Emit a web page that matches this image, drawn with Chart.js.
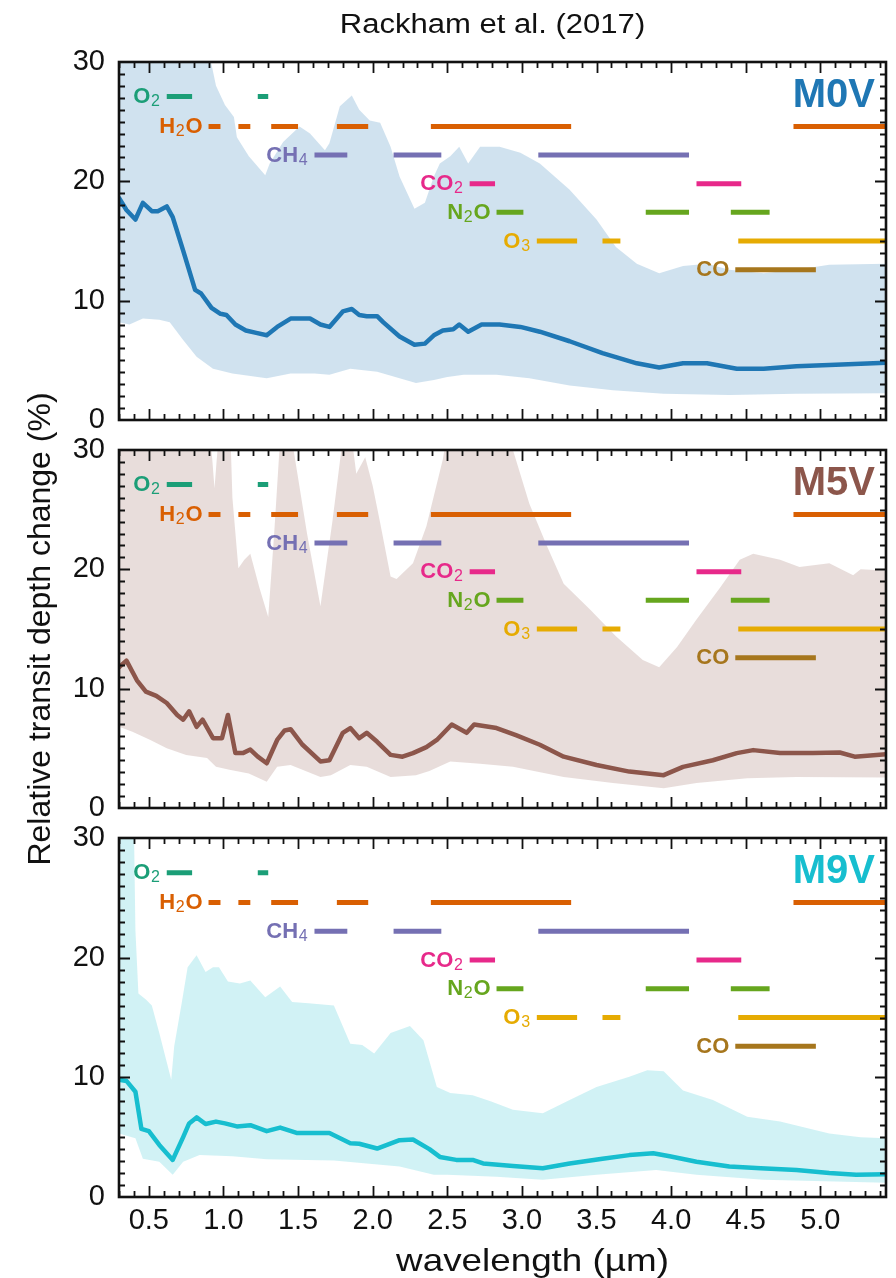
<!DOCTYPE html>
<html>
<head>
<meta charset="utf-8">
<script src="https://cdn.jsdelivr.net/npm/chart.js@4.4.1/dist/chart.umd.min.js"></script>
<style>
html,body{margin:0;padding:0;background:#ffffff;}
#wrap{position:relative;width:896px;height:1278px;overflow:hidden;}
#wrap canvas{position:absolute;left:0;top:0;}
</style>
</head>
<body>
<div id="wrap">
<canvas id="c1" width="896" height="1278"></canvas>
<canvas id="c2" width="896" height="1278"></canvas>
<canvas id="c3" width="896" height="1278"></canvas>
</div>
<script>
// ---------------- DATA ----------------
const WAVELENGTH_TICKS = [0.5, 1.0, 1.5, 2.0, 2.5, 3.0, 3.5, 4.0, 4.5, 5.0];
const DEPTH_TICKS = [0, 10, 20, 30];

const MOLECULES = ['O2', 'H2O', 'CH4', 'CO2', 'N2O', 'O3', 'CO'];
const MOLECULE_LEVELS = [27.1, 24.6, 22.2, 19.8, 17.4, 15.0, 12.6];
const BANDS_O2  = [[0.62, 0.79], [1.23, 1.30]];
const BANDS_H2O = [[0.90, 0.98], [1.10, 1.18], [1.32, 1.50], [1.76, 1.97], [2.39, 3.33], [4.82, 5.44]];
const BANDS_CH4 = [[1.61, 1.83], [2.14, 2.46], [3.11, 4.12]];
const BANDS_CO2 = [[2.65, 2.82], [4.17, 4.47]];
const BANDS_N2O = [[2.83, 3.01], [3.83, 4.12], [4.40, 4.66]];
const BANDS_O3  = [[3.10, 3.37], [3.54, 3.66], [4.45, 5.44]];
const BANDS_CO  = [[4.43, 4.97]];
const MOLECULE_BANDS = [BANDS_O2, BANDS_H2O, BANDS_CH4, BANDS_CO2, BANDS_N2O, BANDS_O3, BANDS_CO];

// [wavelength (µm), relative transit depth change (%)]
const M0V_MEDIAN = [[0.30,18.6],[0.35,17.6],[0.41,16.8],[0.46,18.2],[0.52,17.5],[0.56,17.5],[0.62,17.9],[0.66,17.0],[0.73,14.2],[0.81,10.9],[0.85,10.6],[0.92,9.4],[0.98,8.9],[1.02,8.8],[1.08,8.0],[1.15,7.5],[1.22,7.3],[1.29,7.1],[1.36,7.8],[1.45,8.5],[1.58,8.5],[1.65,8.0],[1.71,7.8],[1.80,9.1],[1.86,9.3],[1.91,8.8],[1.96,8.7],[2.03,8.7],[2.07,8.2],[2.18,7.0],[2.28,6.3],[2.35,6.4],[2.41,7.1],[2.47,7.5],[2.54,7.6],[2.58,8.0],[2.64,7.4],[2.73,8.0],[2.85,8.0],[2.99,7.8],[3.12,7.4],[3.32,6.6],[3.54,5.6],[3.77,4.75],[3.92,4.4],[4.08,4.75],[4.24,4.75],[4.44,4.3],[4.62,4.3],[4.84,4.5],[5.06,4.6],[5.44,4.8]];
const M0V_UPPER = [[0.30,34],[0.60,34],[0.90,31],[0.95,28.0],[1.01,26.4],[1.07,25.4],[1.09,23.7],[1.17,22.1],[1.28,20.5],[1.31,21.5],[1.40,23.3],[1.51,24.6],[1.58,24.0],[1.68,22.6],[1.71,23.2],[1.78,26.3],[1.86,27.2],[1.91,26.0],[1.98,25.1],[2.05,24.9],[2.12,22.9],[2.18,20.4],[2.28,17.7],[2.35,18.2],[2.41,20.4],[2.45,21.5],[2.52,22.1],[2.58,22.9],[2.64,21.5],[2.72,22.9],[2.85,22.9],[2.99,22.4],[3.12,21.5],[3.32,19.3],[3.50,16.8],[3.63,14.5],[3.77,13.1],[3.92,12.3],[4.08,12.9],[4.24,13.1],[4.39,12.6],[4.62,12.3],[4.84,12.6],[5.06,13.0],[5.44,13.1]];
const M0V_LOWER = [[0.30,8.2],[0.37,8.0],[0.46,8.5],[0.57,8.4],[0.64,8.2],[0.73,6.7],[0.82,5.3],[0.93,4.3],[1.06,3.9],[1.29,3.5],[1.45,3.9],[1.61,3.9],[1.71,3.8],[1.85,4.3],[2.03,4.05],[2.29,3.1],[2.41,3.35],[2.50,3.6],[2.61,3.8],[2.83,3.8],[3.05,3.5],[3.32,2.9],[3.61,2.5],[3.95,2.2],[4.39,2.1],[4.84,2.2],[5.44,2.25]];

const M5V_MEDIAN = [[0.30,11.8],[0.35,12.35],[0.42,10.7],[0.48,9.75],[0.55,9.4],[0.62,8.8],[0.69,7.8],[0.73,7.4],[0.77,8.1],[0.82,6.8],[0.86,7.4],[0.93,5.85],[0.99,5.85],[1.03,7.8],[1.08,4.6],[1.13,4.6],[1.18,4.9],[1.23,4.3],[1.29,3.75],[1.36,5.7],[1.41,6.5],[1.45,6.6],[1.53,5.3],[1.65,3.9],[1.71,4.0],[1.80,6.3],[1.85,6.7],[1.91,5.85],[1.96,6.3],[2.03,5.55],[2.12,4.45],[2.20,4.3],[2.27,4.6],[2.36,5.1],[2.43,5.7],[2.53,7.0],[2.63,6.3],[2.68,7.0],[2.83,6.7],[2.96,6.1],[3.12,5.3],[3.28,4.3],[3.50,3.6],[3.72,3.05],[3.95,2.75],[4.08,3.45],[4.28,4.0],[4.44,4.6],[4.55,4.85],[4.73,4.6],[4.95,4.6],[5.13,4.65],[5.23,4.3],[5.44,4.5]];
const M5V_UPPER = [[0.30,34],[0.90,34],[0.92,30],[0.94,26.8],[0.96,30],[0.98,34],[1.04,34],[1.06,26],[1.10,20.1],[1.14,20.8],[1.18,21.3],[1.24,18.5],[1.30,16.0],[1.34,23],[1.38,31],[1.45,33],[1.47,30],[1.56,23],[1.65,16.9],[1.73,24],[1.80,31],[1.86,31],[1.89,28.0],[1.95,29.4],[2.00,27],[2.05,23.9],[2.12,19.4],[2.16,19.2],[2.27,20.5],[2.36,23.6],[2.47,29.2],[2.52,33],[2.90,33],[2.94,30],[3.05,25.5],[3.17,21.9],[3.28,18.8],[3.46,16.6],[3.63,14.4],[3.81,12.4],[3.92,11.8],[4.04,13.5],[4.17,15.8],[4.33,18.5],[4.46,20.8],[4.55,21.3],[4.73,20.8],[4.86,20.2],[5.06,20.5],[5.22,19.5],[5.27,20.0],[5.44,19.9]];
const M5V_LOWER = [[0.30,6.8],[0.39,6.4],[0.51,5.7],[0.62,5.0],[0.75,4.45],[0.89,4.2],[0.95,3.45],[1.04,3.2],[1.17,2.9],[1.29,2.2],[1.36,3.45],[1.45,3.6],[1.65,2.6],[1.72,2.75],[1.85,3.6],[1.96,3.45],[2.12,2.6],[2.29,2.75],[2.38,3.1],[2.52,3.9],[2.72,3.7],[2.94,3.45],[3.28,2.6],[3.61,2.1],[3.95,1.65],[4.17,2.1],[4.51,2.5],[4.84,2.6],[5.44,2.55]];

const M9V_MEDIAN = [[0.30,9.8],[0.35,9.7],[0.41,8.8],[0.45,5.7],[0.50,5.5],[0.57,4.35],[0.66,3.1],[0.73,5.0],[0.77,6.15],[0.82,6.65],[0.88,6.1],[0.95,6.3],[1.01,6.15],[1.09,5.9],[1.18,6.0],[1.29,5.5],[1.38,5.8],[1.49,5.35],[1.71,5.35],[1.85,4.5],[1.91,4.45],[2.03,4.05],[2.18,4.75],[2.27,4.8],[2.38,4.0],[2.45,3.35],[2.56,3.1],[2.67,3.1],[2.74,2.8],[2.94,2.6],[3.14,2.4],[3.32,2.8],[3.54,3.2],[3.72,3.5],[3.88,3.65],[3.99,3.4],[4.17,2.95],[4.39,2.55],[4.60,2.4],[4.84,2.25],[5.06,2.0],[5.24,1.85],[5.44,1.9]];
const M9V_UPPER = [[0.30,34],[0.40,31],[0.41,22.3],[0.43,17.0],[0.48,16.5],[0.52,16.0],[0.57,13.7],[0.65,9.8],[0.67,12.6],[0.72,16.2],[0.76,19.2],[0.82,20.2],[0.88,18.8],[0.93,19.2],[0.97,19.2],[1.03,18.0],[1.11,17.85],[1.18,18.1],[1.28,16.7],[1.38,17.6],[1.46,16.3],[1.57,16.2],[1.74,16.0],[1.85,12.8],[1.93,12.7],[2.01,12.0],[2.12,13.7],[2.25,14.3],[2.34,13.1],[2.43,9.2],[2.52,8.7],[2.67,8.5],[2.79,8.0],[2.94,7.3],[3.14,7.0],[3.32,8.1],[3.50,9.2],[3.72,10.05],[3.84,10.6],[3.95,10.5],[4.08,8.9],[4.28,8.1],[4.51,6.7],[4.73,6.3],[5.06,5.3],[5.27,5.0],[5.44,4.9]];
const M9V_LOWER = [[0.30,5.3],[0.41,4.9],[0.46,3.2],[0.57,2.95],[0.66,1.85],[0.73,2.95],[0.84,3.5],[1.06,3.4],[1.29,3.15],[1.74,3.05],[1.96,2.8],[2.18,2.55],[2.41,1.85],[2.50,1.85],[2.83,1.7],[3.14,1.45],[3.50,1.85],[3.90,2.25],[4.17,1.85],[4.62,1.45],[5.44,1.2]];

const STAR_NAMES = ['M0V', 'M5V', 'M9V'];
const TITLE_TEXT = 'Rackham et al. (2017)';
const X_TITLE = 'wavelength (µm)';
const Y_TITLE = 'Relative transit depth change (%)';

// ---------------- STYLE ----------------
const FONT = '"Liberation Sans", Arial, Helvetica, sans-serif';
const MOLECULE_COLORS = ['#1b9e77', '#d95f02', '#7570b3', '#e7298a', '#66a61e', '#e6ab02', '#a6761d'];
const STAR_COLORS = ['#1f77b4', '#8c564b', '#17becf'];
const STAR_FILLS = ['rgba(31,119,180,0.21)', 'rgba(140,86,75,0.2)', 'rgba(23,190,207,0.2)'];
const PANEL_TOPS = [62, 450, 838];
const PANEL_BOTTOMS = [420, 808, 1197];
const CANVAS_W = 896, CANVAS_H = 1278, PLOT_LEFT = 119, PLOT_RIGHT = 886;

const toXY = arr => arr.map(p => ({x: p[0], y: p[1]}));

const panelDecor = {
  id: 'panelDecor',
  afterDatasetsDraw(chart, args, opts) {
    const {ctx, chartArea: a, scales: {x, y}} = chart;
    ctx.save();
    // inward tick marks on all four sides
    ctx.strokeStyle = '#111';
    ctx.lineWidth = 1.8;
    ctx.beginPath();
    for (let i = 3; i <= 54; i++) {
      const px = Math.round(x.getPixelForValue(i / 10)) + 0.5;
      const len = (i % 5 === 0) ? 11 : 6;
      ctx.moveTo(px, a.bottom); ctx.lineTo(px, a.bottom - len);
      ctx.moveTo(px, a.top); ctx.lineTo(px, a.top + len);
    }
    for (let j = 1; j < 30; j++) {
      const py = Math.round(y.getPixelForValue(j)) + 0.5;
      const len = (j % 10 === 0) ? 11 : 6;
      ctx.moveTo(a.left, py); ctx.lineTo(a.left + len, py);
      ctx.moveTo(a.right, py); ctx.lineTo(a.right - len, py);
    }
    ctx.stroke();
    ctx.lineWidth = 2.6;
    ctx.strokeRect(a.left, a.top, a.right - a.left, a.bottom - a.top);

    // molecule labels (subscript digits)
    MOLECULES.forEach((m, i) => {
      const start = MOLECULE_BANDS[i][0][0];
      const rx = x.getPixelForValue(start) - 6;
      const base = y.getPixelForValue(MOLECULE_LEVELS[i]) + 6.5;
      const parts = m.split(/(\d)/).filter(s => s.length);
      const fMain = `bold 22px ${FONT}`, fSub = `16px ${FONT}`;
      let w = 0;
      parts.forEach(s => { ctx.font = /\d/.test(s) ? fSub : fMain; w += ctx.measureText(s).width + (/\d/.test(s) ? 1.5 : 0); });
      let cx = rx - w;
      ctx.fillStyle = MOLECULE_COLORS[i];
      ctx.textAlign = 'left';
      ctx.textBaseline = 'alphabetic';
      parts.forEach(s => {
        const sub = /\d/.test(s);
        ctx.font = sub ? fSub : fMain;
        ctx.fillText(s, cx + (sub ? 0.75 : 0), base + (sub ? 3 : 0));
        cx += ctx.measureText(s).width + (sub ? 1.5 : 0);
      });
    });

    // panel label
    ctx.font = `bold 40px ${FONT}`;
    ctx.fillStyle = opts.color;
    ctx.textAlign = 'right';
    ctx.textBaseline = 'alphabetic';
    ctx.fillText(opts.label, a.right - 11, a.top + 45);
    ctx.restore();
  },
  afterDraw(chart, args, opts) {
    const {ctx, chartArea: a} = chart;
    ctx.save();
    ctx.fillStyle = '#111';
    ctx.textAlign = 'center';
    ctx.textBaseline = 'alphabetic';
    if (opts.mainTitle) {
      ctx.font = `27px ${FONT}`;
      ctx.translate((a.left + a.right) / 2 - 10, 33);
      ctx.scale(1.15, 1);
      ctx.fillText(opts.mainTitle, 0, 0);
      ctx.setTransform(1, 0, 0, 1, 0, 0);
    }
    if (opts.xTitle) {
      ctx.font = `32px ${FONT}`;
      ctx.translate((a.left + a.right) / 2 + 30, 1271);
      ctx.scale(1.15, 1);
      ctx.fillText(opts.xTitle, 0, 0);
      ctx.setTransform(1, 0, 0, 1, 0, 0);
    }
    ctx.restore();
  }
};
Chart.register(panelDecor);

const SERIES = [
  [M0V_MEDIAN, M0V_UPPER, M0V_LOWER],
  [M5V_MEDIAN, M5V_UPPER, M5V_LOWER],
  [M9V_MEDIAN, M9V_UPPER, M9V_LOWER]
];

SERIES.forEach((s, idx) => {
  const [median, upper, lower] = s;
  const isLast = idx === 2;
  const datasets = [
    {label: STAR_NAMES[idx] + ' upper', data: toXY(upper), borderWidth: 0, borderColor: 'rgba(0,0,0,0)', pointRadius: 0, fill: '+1', backgroundColor: STAR_FILLS[idx]},
    {label: STAR_NAMES[idx] + ' lower', data: toXY(lower), borderWidth: 0, borderColor: 'rgba(0,0,0,0)', pointRadius: 0, fill: false},
    {label: STAR_NAMES[idx] + ' median', data: toXY(median), borderColor: STAR_COLORS[idx], borderWidth: 4.5, pointRadius: 0, fill: false, borderJoinStyle: 'round', borderCapStyle: 'round'}
  ];
  MOLECULES.forEach((m, i) => {
    const pts = [];
    MOLECULE_BANDS[i].forEach(([a, b]) => {
      pts.push({x: a, y: MOLECULE_LEVELS[i]}, {x: b, y: MOLECULE_LEVELS[i]}, {x: b, y: null});
    });
    datasets.push({label: m, data: pts, borderColor: MOLECULE_COLORS[i], borderWidth: 5, pointRadius: 0, fill: false, spanGaps: false, borderCapStyle: 'butt', clip: 0});
  });

  new Chart(document.getElementById('c' + (idx + 1)), {
    type: 'line',
    data: {datasets},
    options: {
      responsive: false,
      animation: false,
      devicePixelRatio: 1,
      events: [],
      layout: {padding: {left: 0, right: CANVAS_W - PLOT_RIGHT, top: PANEL_TOPS[idx], bottom: isLast ? 0 : CANVAS_H - PANEL_BOTTOMS[idx]}},
      plugins: {
        legend: {display: false},
        tooltip: {enabled: false},
        filler: {drawTime: 'beforeDatasetsDraw'},
        panelDecor: {
          label: STAR_NAMES[idx],
          color: STAR_COLORS[idx],
          mainTitle: idx === 0 ? TITLE_TEXT : null,
          xTitle: isLast ? X_TITLE : null
        }
      },
      scales: {
        x: {
          type: 'linear', min: 0.3, max: 5.44,
          afterBuildTicks: sc => { sc.ticks = WAVELENGTH_TICKS.map(v => ({value: v})); },
          afterFit: sc => { sc.height = isLast ? CANVAS_H - PANEL_BOTTOMS[idx] : 0; },
          grid: {display: false, drawTicks: false},
          border: {display: false},
          ticks: {display: isLast, autoSkip: false, maxRotation: 0, padding: 7, color: '#111',
                  font: {family: FONT, size: 29}, callback: v => Number(v).toFixed(1)}
        },
        y: {
          type: 'linear', min: 0, max: 30,
          afterBuildTicks: sc => { sc.ticks = DEPTH_TICKS.map(v => ({value: v})); },
          afterFit: sc => { sc.width = PLOT_LEFT; },
          grid: {display: false, drawTicks: false},
          border: {display: false},
          ticks: {padding: 14, color: '#111', font: {family: FONT, size: 29}, callback: v => String(v)},
          title: {display: idx === 1, text: Y_TITLE, color: '#111', font: {family: FONT, size: 32}, padding: {top: 22, bottom: 0}}
        }
      }
    }
  });
});
</script>
</body>
</html>
